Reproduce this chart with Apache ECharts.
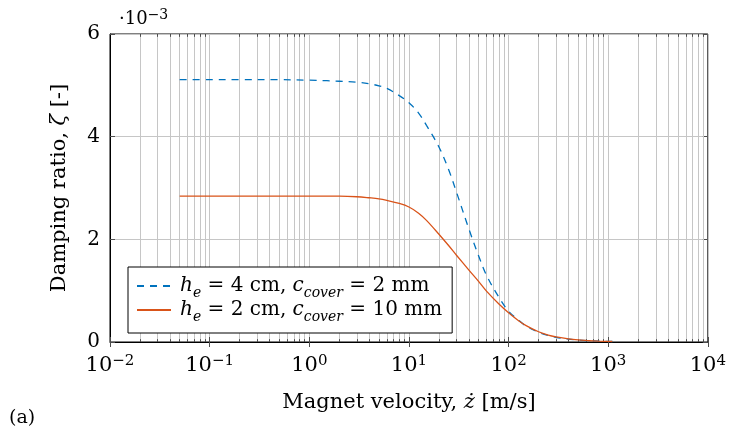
<!DOCTYPE html>
<html>
<head>
<meta charset="utf-8">
<script src="https://cdn.jsdelivr.net/npm/echarts/dist/echarts.min.js"></script>
<style>
  html, body { margin: 0; padding: 0; background: #fff; }
  #chart { width: 729px; height: 439px; }
</style>
</head>
<body>
<div id="chart"></div>
<script>
// Magnet velocity samples [m/s]
const velocity = [0.05, 0.1, 0.2, 0.5, 1, 1.5, 2, 3, 4, 5, 6, 8, 10, 12.5, 15, 20, 25, 30, 40, 50, 60, 80, 100, 125, 150, 200, 250, 300, 400, 500, 600, 800, 1000, 1100];

// Damping ratio (x 1e-3), h_e = 4 cm, c_cover = 2 mm
const dampingThick = [5.11, 5.11, 5.11, 5.11, 5.10, 5.09, 5.08, 5.06, 5.03, 4.99, 4.94, 4.80, 4.66, 4.46, 4.22, 3.80, 3.36, 2.92, 2.20, 1.68, 1.30, 0.87, 0.60, 0.43, 0.31, 0.19, 0.125, 0.09, 0.055, 0.037, 0.026, 0.016, 0.011, 0.010];

// Damping ratio (x 1e-3), h_e = 2 cm, c_cover = 10 mm
const dampingThin = [2.84, 2.84, 2.84, 2.84, 2.84, 2.84, 2.84, 2.83, 2.81, 2.79, 2.76, 2.70, 2.63, 2.51, 2.37, 2.10, 1.88, 1.69, 1.40, 1.18, 0.99, 0.74, 0.57, 0.42, 0.32, 0.20, 0.135, 0.10, 0.06, 0.04, 0.03, 0.018, 0.012, 0.010];

const seriesNames = ['h_e = 4 cm, c_cover = 2 mm', 'h_e = 2 cm, c_cover = 10 mm'];
const legendRich = [
  '{gap|}{i|h}{s|e}{r| = 4 cm, }{i|c}{s|cover}{r| = 2 mm}',
  '{gap|}{i|h}{s|e}{r| = 2 cm, }{i|c}{s|cover}{r| = 10 mm}'
];

// Axis ranges and ticks
const xMin = 0.01, xMax = 10000;
const yMin = 0, yMax = 6, yStep = 2;
const decades = [0.01, 0.1, 1, 10, 100, 1000];
const minorSteps = [2, 3, 4, 5, 6, 7, 8, 9];

const FONT = '"DejaVu Serif", "Liberation Serif", serif';
const GRID_COLOR = '#c6c6c6';
const TICK_COLOR = '#4d4d4d';

const minorValues = [];
decades.forEach(d => minorSteps.forEach(m => minorValues.push(+(d * m).toPrecision(6))));

const toPairs = ys => velocity.map((v, i) => [v, ys[i]]);

// minor grid lines spanning the full height, and short minor ticks at the bottom and top edges
const minorGrid = minorValues.map(v => ({ coords: [[v, yMin], [v, yMax]] }));
const minorTicks = [];
minorValues.forEach(v => {
  minorTicks.push({ coords: [[v, yMin], [v, yMin + 0.055]] });
  minorTicks.push({ coords: [[v, yMax], [v, yMax - 0.055]] });
});

const tickRich = {
  b: { fontFamily: FONT, fontSize: 21, lineHeight: 24, color: '#000' },
  s: { fontFamily: FONT, fontSize: 15, lineHeight: 12, verticalAlign: 'top', color: '#000' }
};
const scaleRich = {
  b: { fontFamily: FONT, fontSize: 18, lineHeight: 22, color: '#000' },
  s: { fontFamily: FONT, fontSize: 14, lineHeight: 12, verticalAlign: 'top', color: '#000' }
};

const chart = echarts.init(document.getElementById('chart'), null, { renderer: 'canvas' });

const logAxisBase = {
  type: 'log',
  logBase: 10,
  min: xMin,
  max: xMax,
  splitNumber: 6,
  gridIndex: 0
};

chart.setOption({
  animation: false,
  backgroundColor: '#fff',
  grid: {
    left: 110, right: 16, top: 34, bottom: 97,
    show: true, borderColor: '#000', borderWidth: 1, backgroundColor: 'transparent'
  },
  legend: {
    data: seriesNames,
    orient: 'vertical',
    left: 128,
    top: 267,
    z: 20,
    itemWidth: 34,
    itemHeight: 14,
    itemGap: 0,
    padding: [9, 10, 9, 8],
    backgroundColor: '#fff',
    borderColor: '#000',
    borderWidth: 1,
    borderRadius: 0,
    itemStyle: { color: 'transparent', borderColor: 'transparent', borderWidth: 0, opacity: 0 },
    formatter: name => legendRich[seriesNames.indexOf(name)],
    textStyle: {
      rich: {
        gap: { width: 4, lineHeight: 28 },
        r: { fontFamily: FONT, fontSize: 20, lineHeight: 28, color: '#000' },
        i: { fontFamily: FONT, fontSize: 20, lineHeight: 28, fontStyle: 'italic', color: '#000' },
        s: { fontFamily: FONT, fontSize: 14, lineHeight: 12, fontStyle: 'italic', verticalAlign: 'bottom', color: '#000' }
      }
    }
  },
  xAxis: [
    Object.assign({}, logAxisBase, {
      position: 'bottom',
      name: '{r|Magnet velocity, }{i|ż}{r| [m/s]}',
      nameLocation: 'middle',
      nameGap: 50,
      nameTextStyle: {
        rich: {
          r: { fontFamily: FONT, fontSize: 21, color: '#000' },
          i: { fontFamily: FONT, fontSize: 21, fontStyle: 'italic', color: '#000' }
        }
      },
      axisLine: { show: true, lineStyle: { color: '#000', width: 1 } },
      axisTick: { show: true, inside: true, length: 5, lineStyle: { color: TICK_COLOR } },
      axisLabel: {
        margin: 12,
        formatter: v => '{b|10}{s|' + String(Math.round(Math.log10(v))).replace('-', '\u2212') + '}',
        rich: tickRich
      },
      splitLine: { show: true, lineStyle: { color: GRID_COLOR, width: 1 } }
    }),
    Object.assign({}, logAxisBase, {
      position: 'top',
      axisLine: { show: false },
      axisTick: { show: true, inside: true, length: 5, lineStyle: { color: TICK_COLOR } },
      axisLabel: { show: false },
      splitLine: { show: false }
    })
  ],
  yAxis: [
    {
      type: 'value',
      min: yMin, max: yMax, interval: yStep,
      position: 'left',
      name: '{r|Damping ratio, }{i|ζ}{r| [-]}',
      nameLocation: 'middle',
      nameGap: 40,
      nameRotate: 90,
      nameTextStyle: {
        rich: {
          r: { fontFamily: FONT, fontSize: 21, color: '#000' },
          i: { fontFamily: FONT, fontSize: 21, fontStyle: 'italic', color: '#000' }
        }
      },
      axisLine: { show: true, lineStyle: { color: '#000', width: 1 } },
      axisTick: { show: true, inside: true, length: 5, lineStyle: { color: TICK_COLOR } },
      axisLabel: { margin: 10, fontFamily: FONT, fontSize: 20, color: '#000' },
      splitLine: { show: true, lineStyle: { color: GRID_COLOR, width: 1 } }
    },
    {
      type: 'value',
      min: yMin, max: yMax, interval: yStep,
      position: 'right',
      axisLine: { show: false },
      axisTick: { show: true, inside: true, length: 5, lineStyle: { color: TICK_COLOR } },
      axisLabel: { show: false },
      splitLine: { show: false }
    }
  ],
  graphic: [
    {
      type: 'text',
      left: 119,
      top: 8,
      style: {
        text: '{b|·10}{s|\u22123}',
        rich: scaleRich
      }
    },
    {
      type: 'text',
      left: 9,
      top: 409,
      style: {
        text: '(a)',
        fontFamily: FONT,
        fontSize: 19,
        fill: '#000'
      }
    }
  ],
  series: [
    {
      type: 'lines',
      coordinateSystem: 'cartesian2d',
      xAxisIndex: 0,
      yAxisIndex: 0,
      z: 1,
      silent: true,
      polyline: false,
      lineStyle: { color: GRID_COLOR, width: 1, opacity: 1, type: 'solid' },
      data: minorGrid
    },
    {
      type: 'lines',
      coordinateSystem: 'cartesian2d',
      xAxisIndex: 0,
      yAxisIndex: 0,
      z: 2,
      silent: true,
      polyline: false,
      lineStyle: { color: TICK_COLOR, width: 1, opacity: 1, type: 'solid' },
      data: minorTicks
    },
    {
      name: seriesNames[0],
      type: 'line',
      data: toPairs(dampingThick),
      xAxisIndex: 0,
      yAxisIndex: 0,
      z: 10,
      showSymbol: false,
      symbol: 'none',
      smooth: 0.35,
      lineStyle: { color: '#0072BD', width: 1.3, type: [7, 6] },
      itemStyle: { color: '#0072BD' }
    },
    {
      name: seriesNames[1],
      type: 'line',
      data: toPairs(dampingThin),
      xAxisIndex: 0,
      yAxisIndex: 0,
      z: 11,
      showSymbol: false,
      symbol: 'none',
      smooth: 0.35,
      lineStyle: { color: '#D95319', width: 1.3, type: 'solid' },
      itemStyle: { color: '#D95319' }
    }
  ]
});
</script>
</body>
</html>
